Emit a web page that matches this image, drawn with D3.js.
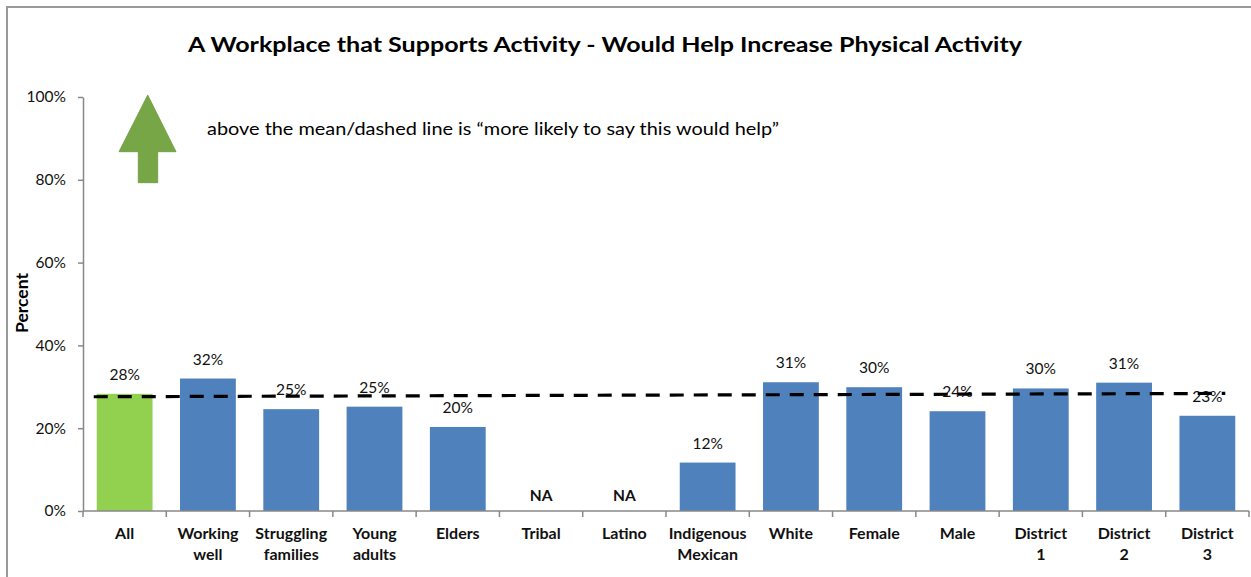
<!DOCTYPE html>
<html><head><meta charset="utf-8">
<script src="https://cdn.jsdelivr.net/npm/d3@7"></script>
<style>html,body{margin:0;padding:0;background:#fff;}svg{display:block;}</style>
</head><body>
<svg id="c" width="1251" height="577"></svg>
<script>
const categories = ["All","Working well","Struggling families","Young adults","Elders","Tribal","Latino","Indigenous Mexican","White","Female","Male","District 1","District 2","District 3"];
const values = [28.3, 32.0, 24.6, 25.2, 20.3, null, null, 11.7, 31.1, 29.9, 24.1, 29.6, 31.0, 23.0];
const valueLabels = ["28%","32%","25%","25%","20%","NA","NA","12%","31%","30%","24%","30%","31%","23%"];
const yTicks = [0, 20, 40, 60, 80, 100];
const meanLine = [27.6, 28.4]; // dashed mean line, start and end values
const title = "A Workplace that Supports Activity - Would Help Increase Physical Activity";
const note = "above the mean/dashed line is \u201cmore likely to say this would help\u201d";
const yTitle = "Percent";

const FONT = "Lato, 'Open Sans', sans-serif";
const svg = d3.select("#c");

// outer frame
svg.append("path").attr("d","M7,577 V7 H1251").attr("fill","none").attr("stroke","#9a9a9a").attr("stroke-width",2);

const x = d3.scaleBand().domain(categories).range([83, 1249]).paddingInner(0.33).paddingOuter(0.165);
const y = d3.scaleLinear().domain([0, 100]).range([511, 97]);

// y axis
const yAx = svg.append("g").attr("transform","translate(83,0)")
  .call(d3.axisLeft(y).tickValues(yTicks).tickFormat(d => d + "%").tickSize(5).tickSizeOuter(0).tickPadding(12));
yAx.select(".domain").attr("stroke","#888").attr("stroke-width",1.5);
yAx.selectAll(".tick line").attr("stroke","#888").attr("stroke-width",1.5);
yAx.selectAll(".tick text").attr("font-family",FONT).attr("font-size",15.5).attr("fill","#111");

// bars
svg.append("g").selectAll("rect").data(categories.map((c,i)=>({c, v: values[i], i})).filter(d => d.v != null))
  .enter().append("rect")
  .attr("x", d => x(d.c)).attr("width", x.bandwidth())
  .attr("y", d => y(d.v)).attr("height", d => y(0) - y(d.v))
  .attr("fill", d => d.i === 0 ? "#92d050" : "#4f81bd");

// x axis
const step = x.step(), gap = step - x.bandwidth();
const xg = svg.append("g");
xg.append("line").attr("x1", x.range()[0]).attr("x2", x.range()[1]).attr("y1", y(0)).attr("y2", y(0))
  .attr("stroke","#888").attr("stroke-width",1.5);
const boundaries = categories.map(c => x(c) - gap/2).concat([x(categories[categories.length-1]) + x.bandwidth() + gap/2]);
xg.selectAll("line.t").data(boundaries).enter().append("line").attr("class","t")
  .attr("x1", d => d).attr("x2", d => d).attr("y1", y(0)).attr("y2", y(0) + 6)
  .attr("stroke","#888").attr("stroke-width",1.5);
categories.forEach(c => {
  const parts = c.split(" ");
  const t = xg.append("text").attr("text-anchor","middle").attr("font-family",FONT)
    .attr("font-weight","bold").attr("font-size",16).attr("fill","#111");
  parts.forEach((p, k) => t.append("tspan").attr("x", x(c) + x.bandwidth()/2).attr("y", 539 + k*21).text(p));
});

// value labels
svg.append("g").selectAll("text").data(categories.map((c,i)=>({c, v: values[i], l: valueLabels[i]})))
  .enter().append("text")
  .attr("x", d => x(d.c) + x.bandwidth()/2)
  .attr("y", d => (d.v == null ? y(0) - 10 : y(d.v) - 14))
  .attr("text-anchor","middle").attr("font-family",FONT).attr("font-size",15.5)
  .attr("font-weight", d => d.v == null ? "bold" : "normal").attr("fill","#111")
  .text(d => d.l);

// dashed mean line
svg.append("line")
  .attr("x1", x(categories[0]) - 3).attr("x2", x(categories[categories.length-1]) + x.bandwidth() - 10)
  .attr("y1", y(meanLine[0])).attr("y2", y(meanLine[1]))
  .attr("stroke","#000").attr("stroke-width",3.2).attr("stroke-dasharray","14,10");

// title
svg.append("text").attr("x", 605).attr("y", 52).attr("text-anchor","middle")
  .attr("font-family",FONT).attr("font-weight","bold").attr("font-size",21).attr("fill","#000")
  .attr("textLength", 834).attr("lengthAdjust","spacingAndGlyphs").text(title);

// note
svg.append("text").attr("x", 207).attr("y", 135)
  .attr("font-family",FONT).attr("font-size",17).attr("fill","#000")
  .attr("textLength", 572).attr("lengthAdjust","spacingAndGlyphs").text(note);

// y title
svg.append("text").attr("transform","translate(28,303) rotate(-90)").attr("text-anchor","middle")
  .attr("font-family",FONT).attr("font-weight","bold").attr("font-size",17.5).attr("fill","#000").text(yTitle);

// green arrow
svg.append("path")
  .attr("d","M147.7,95 L176,151.7 L157.7,151.7 L157.7,182.7 L138.3,182.7 L138.3,151.7 L119,151.7 Z")
  .attr("fill","#77a646").attr("stroke","#6a9a3c").attr("stroke-width",0.8);
</script>
</body></html>
